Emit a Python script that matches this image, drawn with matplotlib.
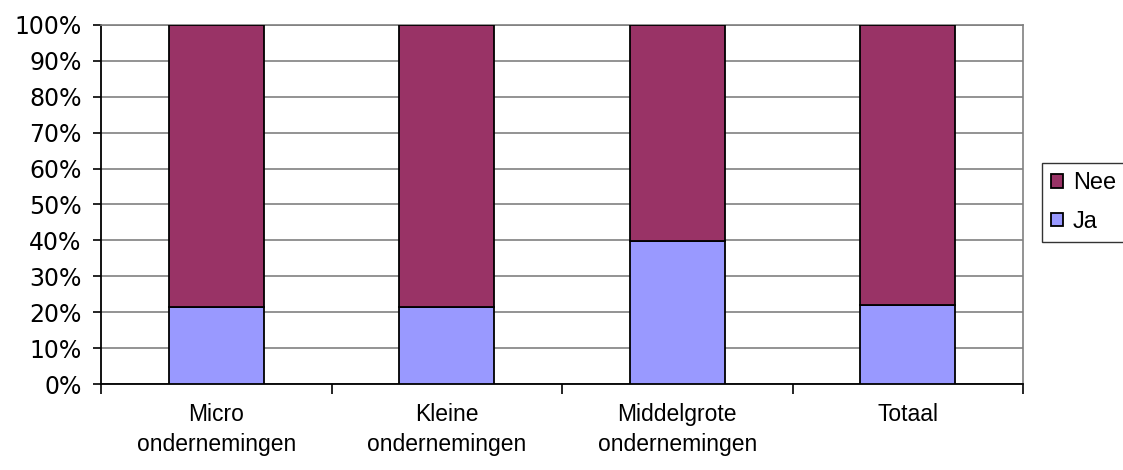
import numpy as np
import matplotlib
matplotlib.use("Agg")
import matplotlib.pyplot as plt
from matplotlib.ticker import FixedLocator, PercentFormatter

categories = ["Micro\nondernemingen", "Kleine\nondernemingen",
              "Middelgrote\nondernemingen", "Totaal"]
ja = [21.5, 21.5, 39.8, 22.0]
nee = [100 - v for v in ja]

plt.rcParams["font.family"] = ["Liberation Sans", "DejaVu Sans"]

fig = plt.figure(figsize=(11.23, 4.70), dpi=100)
ax = fig.add_axes([101 / 1123, 1 - 384 / 470, 922 / 1123, 359 / 470])

x = np.arange(len(categories))
ax.bar(x, ja, width=0.41, color="#9999FF", edgecolor="black", linewidth=1.3, label="Ja", zorder=3)
ax.bar(x, nee, width=0.41, bottom=ja, color="#993366", edgecolor="black", linewidth=1.3,
       label="Nee", zorder=3)

ax.set_xlim(-0.5, len(categories) - 0.5)
ax.set_ylim(0, 100)
ax.set_yticks(np.arange(0, 101, 10))
ax.yaxis.set_major_formatter(PercentFormatter(decimals=0))
ax.yaxis.grid(True, color="#808080", linewidth=1.2, zorder=0)
for lbl in ax.get_yticklabels():
    lbl.set_family(["DejaVu Sans"])
    lbl.set_fontsize(17)

ax.set_xticks(x)
ax.set_xticklabels(categories, fontsize=16.5, linespacing=1.35)
ax.xaxis.set_minor_locator(FixedLocator(np.arange(-0.5, len(categories), 1.0)))
ax.tick_params(axis="x", which="major", length=0, pad=14)
ax.tick_params(axis="x", which="minor", length=7, width=1.2, color="black", direction="out")
ax.tick_params(axis="y", length=6, width=1.2, direction="out", pad=8)

for s in ("left", "bottom"):
    ax.spines[s].set_color("black")
    ax.spines[s].set_linewidth(1.3)
for s in ("top", "right"):
    ax.spines[s].set_color("#808080")
    ax.spines[s].set_linewidth(1.2)

handles, labels = ax.get_legend_handles_labels()
leg = fig.legend(handles[::-1], labels[::-1], loc="upper left",
                 bbox_to_anchor=(1042 / 1123, 1 - 163 / 470), borderaxespad=0,
                 prop={"size": 17},
                 frameon=True, fancybox=False, edgecolor="black", handlelength=0.5,
                 handleheight=0.5, handletextpad=0.4, borderpad=0.4, labelspacing=0.7)
leg.get_frame().set_linewidth(1.0)

fig.savefig("out.png", dpi=100)
